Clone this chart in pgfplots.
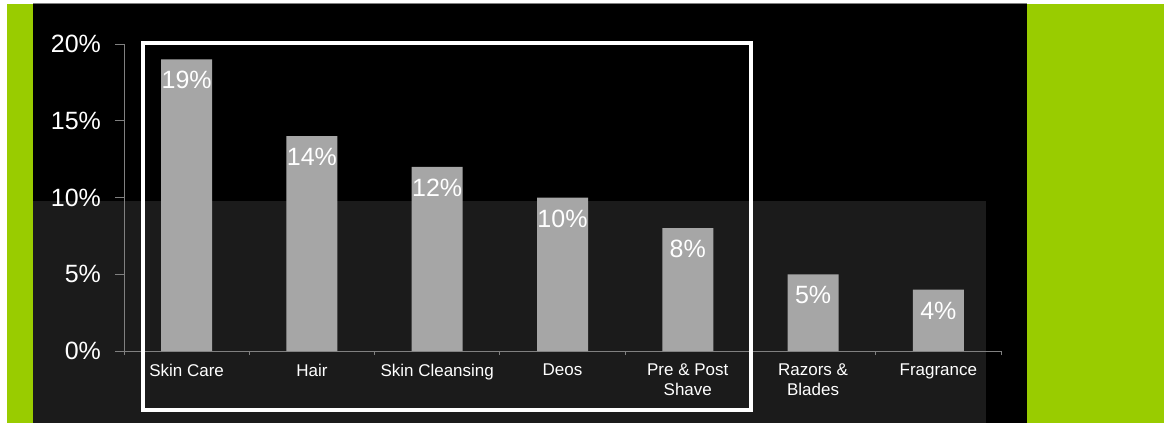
\documentclass[border=0pt]{standalone}
\usepackage{pgfplots}
\pgfplotsset{compat=1.18}
\usepackage{fontspec}
\setmainfont{Liberation Sans}
\definecolor{lime}{HTML}{99CC00}
\definecolor{bargray}{HTML}{A6A6A6}
\definecolor{darkbg}{HTML}{1B1B1B}
\definecolor{axgray}{HTML}{808080}
\begin{document}
\begin{tikzpicture}[x=0.5pt,y=0.5pt]
\useasboundingbox (0,0) rectangle (1165,423);
\fill[white] (0,0) rectangle (1165,423);
\fill[lime] (7,0) rectangle (33,419);
\fill[black] (33,0) rectangle (1027,419);
\fill[lime] (1027,0) rectangle (1164,419);
\fill[darkbg] (33,0) rectangle (986,222);
\draw[axgray, line width=0.5pt] (33,419) -- (1027,419);
\begin{axis}[
  at={(62pt,36pt)}, anchor=south west,
  scale only axis, width=438.5pt, height=153.5pt,
  xmin=-0.5, xmax=6.5, ymin=0, ymax=20,
  axis x line*=bottom, axis y line*=left,
  axis line style={axgray, line width=0.5pt},
  ybar, bar width=25.5pt,
  ytick={0,5,10,15,20}, yticklabels={0\%,5\%,10\%,15\%,20\%},
  tick align=outside, major tick length=4.5pt, minor tick length=2pt,
  y tick style={axgray, line width=0.5pt},
  xtick={0,...,6},
  xticklabels={Skin Care, Hair, Skin Cleansing, Deos, {Pre \& Post\\Shave}, {Razors \&\\Blades}, Fragrance},
  x tick style={draw=none},
  minor xtick={-0.5,0.5,...,6.5},
  minor x tick style={draw=axgray, line width=0.5pt},
  xticklabel style={white, font=\fontsize{8.5}{10}\selectfont, align=center, yshift=1.5pt},
  yticklabel style={white, font=\fontsize{12.5}{14}\selectfont, xshift=-3.5pt},
  nodes near coords={\pgfmathprintnumber{\pgfplotspointmeta}\%},
  every node near coord/.append style={white, font=\fontsize{12.5}{14}\selectfont, anchor=center, yshift=-10.5pt},
  clip=false,
  /pgf/number format/assume math mode=true,
]
\addplot[fill=bargray, draw=none] coordinates {(0,19) (1,14) (2,12) (3,10) (4,8) (5,5) (6,4)};
\end{axis}
\draw[white, line width=1.75pt] (143,13) rectangle (751,380);
\end{tikzpicture}
\end{document}
